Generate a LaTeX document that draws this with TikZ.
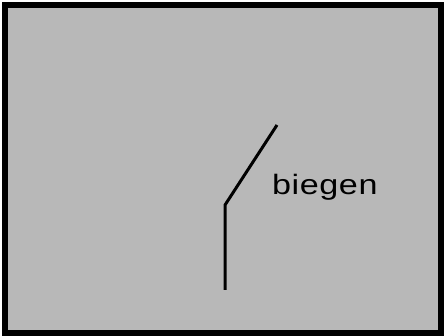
\documentclass[tikz,border=0pt]{standalone}
\usepackage{fontspec}
\setmainfont{Liberation Sans}
\definecolor{panelgray}{RGB}{184,184,184}
\begin{document}
\begin{tikzpicture}[x=1pt,y=-1pt,
  frame/.style={draw=black,line width=6pt,fill=panelgray},
  bent/.style={draw=black,line width=3pt},
  lbl/.style={anchor=base west,inner sep=0pt,font=\addfontfeatures{FakeStretch=1.22,LetterSpace=2}\fontsize{28}{34}\selectfont}]
\useasboundingbox[fill=white] (0,0) rectangle (444,336);
\draw[frame] (5,5.5) rectangle (441,332.5);
\coordinate (bottom) at (225,290);
\coordinate (knee) at (225,205);
\coordinate (top) at (277,125);
\draw[bent] (bottom) -- (knee) -- (top);
\node[lbl] (label) at (272,194.5) {biegen};
\end{tikzpicture}
\end{document}
